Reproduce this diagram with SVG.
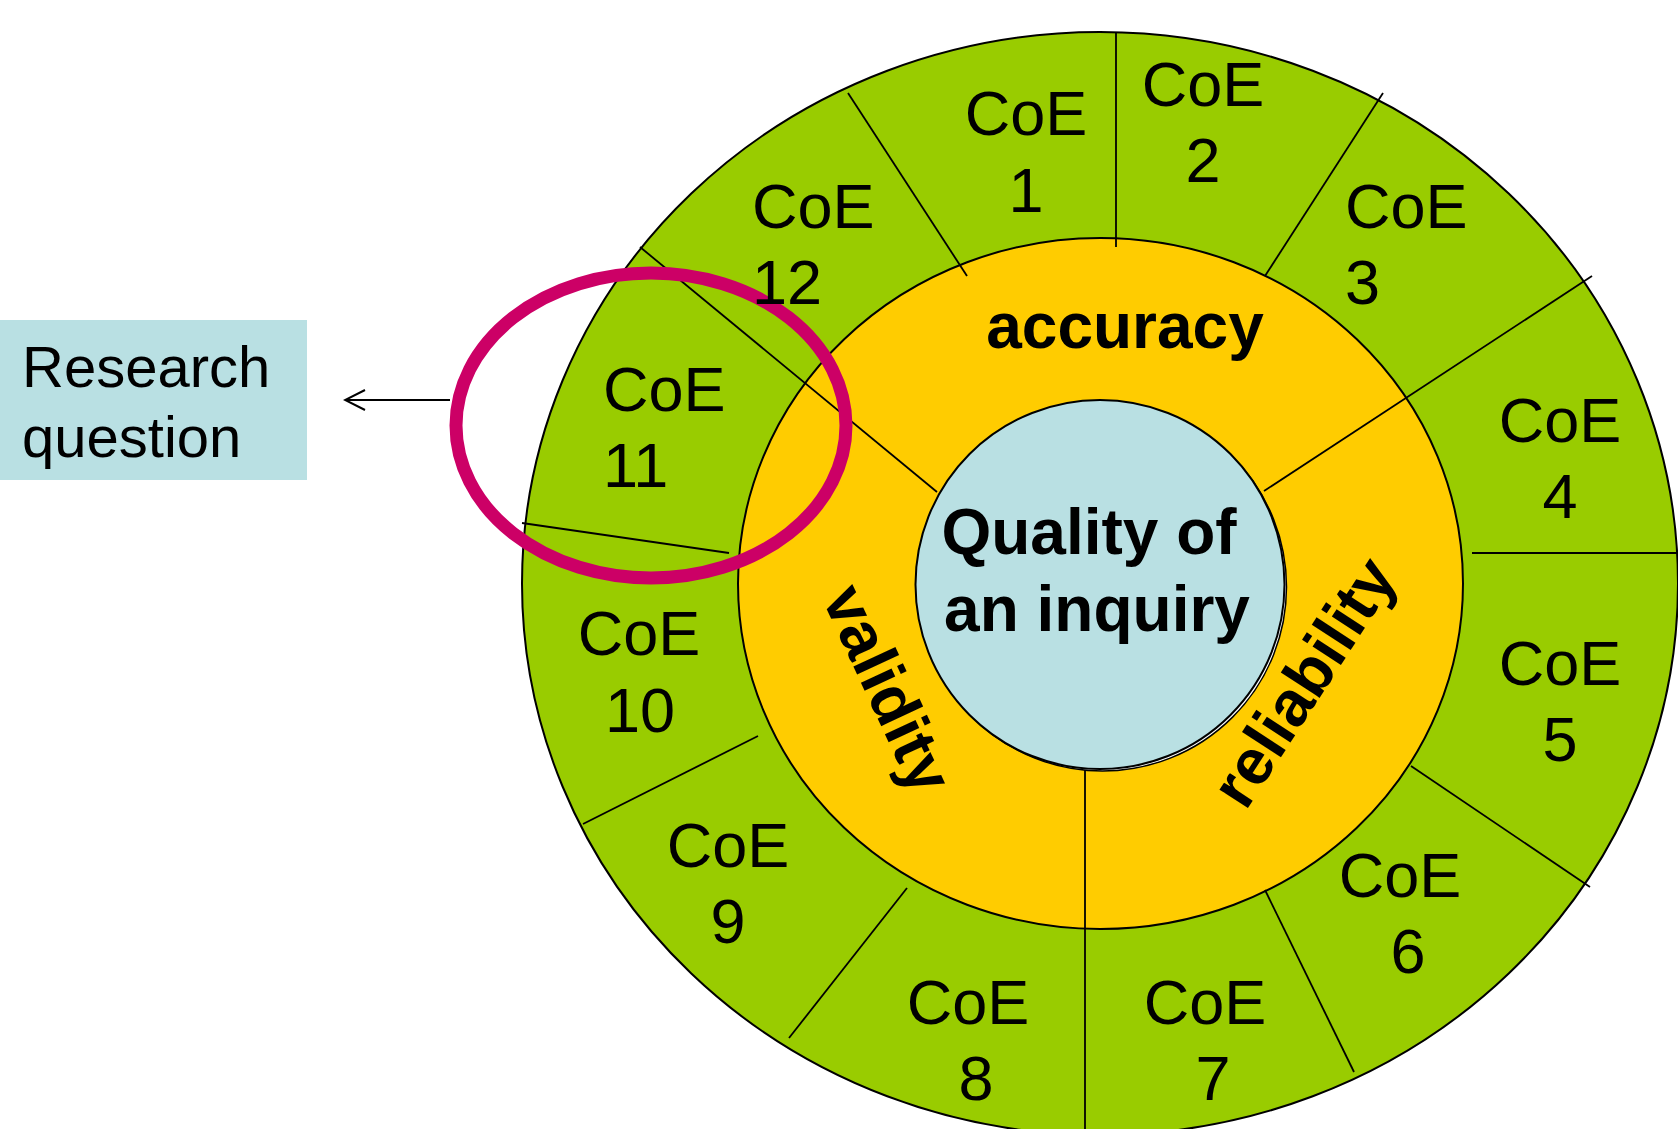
<svg xmlns="http://www.w3.org/2000/svg" width="1678" height="1129" viewBox="0 0 1678 1129">
  <defs>
    <style>
      .ring { stroke: #000; stroke-width: 2; }
      .div { stroke: #000; stroke-width: 1.8; fill: none; }
      .coe { font-family: "Liberation Sans", Arial, sans-serif; font-size: 63px; fill: #000; }
      .bold { font-family: "Liberation Sans", Arial, sans-serif; font-size: 64px; font-weight: bold; fill: #000; }
      .mid { text-anchor: middle; }
    </style>
    <marker id="openArrow" viewBox="0 0 24 24" refX="22" refY="12" markerWidth="24" markerHeight="24" markerUnits="userSpaceOnUse" orient="auto">
      <polyline points="2,2 22,12 2,22" fill="none" stroke="#000" stroke-width="2"/>
    </marker>
  </defs>
  <rect width="1678" height="1129" fill="#fff"/>

  <g id="outer-ring">
    <ellipse class="ring" cx="1100" cy="583.5" rx="578" ry="551.5" fill="#99CC00"/>
  </g>
  <g id="middle-ring">
    <ellipse class="ring" cx="1100.5" cy="583.5" rx="362.5" ry="345.5" fill="#FFCC00"/>
  </g>

  <g id="dividers">
    <line class="div" x1="848" y1="93" x2="967" y2="276"/>
    <line class="div" x1="1116" y1="32" x2="1116" y2="247"/>
    <line class="div" x1="1383" y1="93" x2="1265" y2="276"/>
    <line class="div" x1="1592" y1="276" x2="1264" y2="491"/>
    <line class="div" x1="1472" y1="553" x2="1678" y2="553"/>
    <line class="div" x1="1411" y1="766" x2="1590" y2="887"/>
    <line class="div" x1="1265" y1="890" x2="1354" y2="1072"/>
    <line class="div" x1="1085" y1="768" x2="1085" y2="1129"/>
    <line class="div" x1="907" y1="888" x2="789" y2="1038"/>
    <line class="div" x1="758" y1="736" x2="583" y2="824"/>
    <line class="div" x1="522" y1="523" x2="729" y2="553"/>
    <line class="div" x1="640" y1="247" x2="937" y2="492"/>
  </g>

  <g id="core">
    <circle cx="1102.5" cy="587" r="184" fill="#fff" stroke="#000" stroke-width="1.5"/>
    <circle cx="1100" cy="584.5" r="184.5" fill="#B9E0E3" stroke="#000" stroke-width="2"/>
    <text class="bold mid" x="1089" y="554">Quality of</text>
    <text class="bold mid" x="1097" y="631">an inquiry</text>
  </g>

  <g id="highlight">
    <ellipse cx="651" cy="425.5" rx="195" ry="152.5" fill="none" stroke="#CC0066" stroke-width="13"/>
  </g>

  <g id="labels-middle">
    <text class="bold mid" x="1125" y="348">accuracy</text>
    <text class="bold mid" font-size="62" transform="translate(868,698) rotate(65)">validity</text>
    <text class="bold mid" transform="translate(1322,694) rotate(-57)">reliability</text>
  </g>

  <g id="coe-1"><text class="coe mid" x="1026" y="135">CoE</text><text class="coe mid" x="1026" y="212">1</text></g>
  <g id="coe-2"><text class="coe mid" x="1203" y="106">CoE</text><text class="coe mid" x="1203" y="182">2</text></g>
  <g id="coe-3"><text class="coe" x="1345" y="228">CoE</text><text class="coe" x="1345" y="304">3</text></g>
  <g id="coe-4"><text class="coe mid" x="1560" y="442">CoE</text><text class="coe mid" x="1560" y="518">4</text></g>
  <g id="coe-5"><text class="coe mid" x="1560" y="685">CoE</text><text class="coe mid" x="1560" y="761">5</text></g>
  <g id="coe-6"><text class="coe mid" x="1400" y="897">CoE</text><text class="coe mid" x="1408" y="973">6</text></g>
  <g id="coe-7"><text class="coe mid" x="1205" y="1024">CoE</text><text class="coe mid" x="1213" y="1100">7</text></g>
  <g id="coe-8"><text class="coe mid" x="968" y="1024">CoE</text><text class="coe mid" x="976" y="1100">8</text></g>
  <g id="coe-9"><text class="coe mid" x="728" y="867">CoE</text><text class="coe mid" x="728" y="943">9</text></g>
  <g id="coe-10"><text class="coe mid" x="639" y="655">CoE</text><text class="coe mid" x="640" y="732">10</text></g>
  <g id="coe-11"><text class="coe" x="603" y="411">CoE</text><text class="coe" x="603" y="487">11</text></g>
  <g id="coe-12"><text class="coe" x="752" y="228">CoE</text><text class="coe" x="752" y="304">12</text></g>

  <g id="research-question">
    <rect x="0" y="320" width="307" height="160" fill="#B9E0E3"/>
    <text font-family="'Liberation Sans', Arial, sans-serif" font-size="58" x="22" y="387">Research</text>
    <text font-family="'Liberation Sans', Arial, sans-serif" font-size="58" x="22" y="457">question</text>
  </g>

  <g id="connectors">
    <line x1="450" y1="400" x2="345" y2="400" stroke="#000" stroke-width="2" marker-end="url(#openArrow)"/>
  </g>
</svg>
